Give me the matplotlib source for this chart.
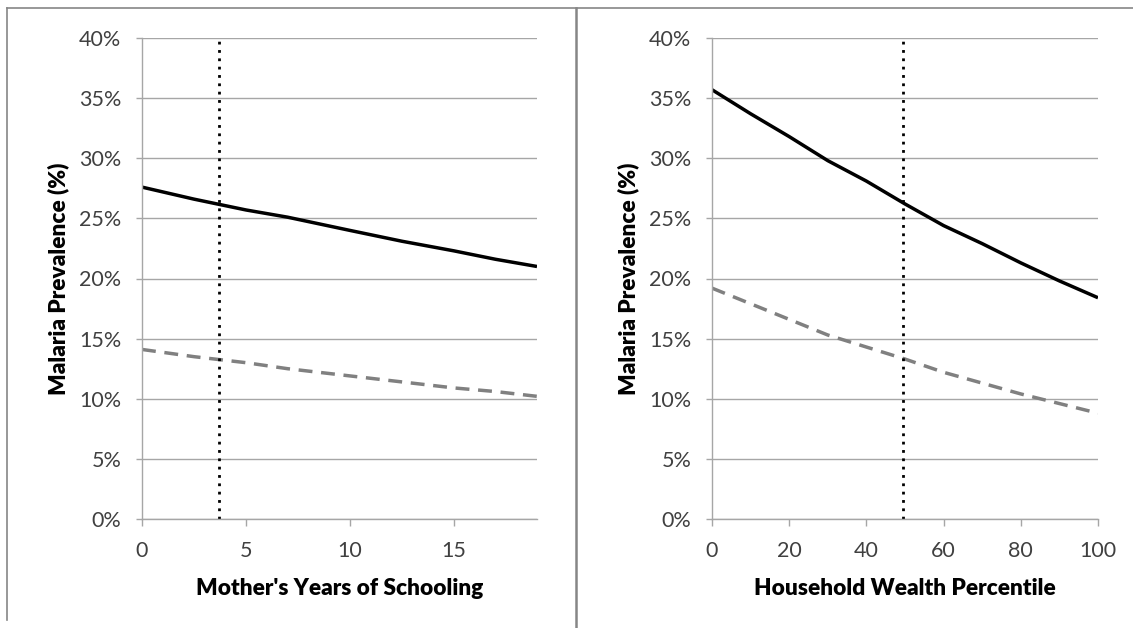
import matplotlib

matplotlib.use("Agg")
import matplotlib.pyplot as plt
from matplotlib.lines import Line2D
from matplotlib.ticker import FuncFormatter

plt.rcParams["font.family"] = ["Lato", "DejaVu Sans"]

# left panel: mother's years of schooling
school_x = [0, 2.5, 5, 7, 10, 12.5, 15, 17, 19]
school_solid = [27.6, 26.6, 25.7, 25.1, 24.0, 23.1, 22.3, 21.6, 21.0]
school_dashed = [14.1, 13.5, 13.0, 12.5, 11.9, 11.4, 10.9, 10.6, 10.2]
school_mark = 3.7

# right panel: household wealth percentile
wealth_x = [0, 10, 20, 30, 40, 50, 60, 70, 80, 90, 100]
wealth_solid = [35.7, 33.7, 31.8, 29.8, 28.1, 26.2, 24.4, 22.9, 21.3, 19.8, 18.4]
wealth_dashed = [19.2, 17.9, 16.6, 15.3, 14.3, 13.3, 12.2, 11.3, 10.4, 9.6, 8.8]
wealth_mark = 49.5

y_ticks = [0, 5, 10, 15, 20, 25, 30, 35, 40]
GRID = "#a6a6a6"
TEXT = "#404040"


def style_panel(ax, xlim, xticks, xlabel):
    ax.set_xlim(*xlim)
    ax.set_ylim(0, 40)
    ax.set_yticks(y_ticks)
    ax.set_xticks(xticks)
    ax.yaxis.set_major_formatter(FuncFormatter(lambda v, p: f"{v:.0f}%"))
    ax.grid(axis="y", color=GRID, linewidth=1)
    ax.set_axisbelow(True)
    for side in ["top", "right"]:
        ax.spines[side].set_visible(False)
    for side in ["left", "bottom"]:
        ax.spines[side].set_color(GRID)
        ax.spines[side].set_linewidth(1)
    ax.tick_params(axis="both", colors=GRID, labelcolor=TEXT, labelsize=15.5, width=1)
    ax.tick_params(axis="x", pad=11, length=5)
    ax.tick_params(axis="y", pad=11, length=4)
    ax.set_ylabel("Malaria Prevalence (%)", fontsize=16.3, fontweight="heavy", color="black", labelpad=7)
    ax.set_xlabel(xlabel, fontsize=16.3, fontweight="heavy", color="black", labelpad=12)


fig = plt.figure(figsize=(11.33, 6.28), dpi=100)
W, H = 1133, 628
ax1 = fig.add_axes([142 / W, 1 - 519 / H, (537 - 142) / W, (519 - 38) / H])
ax2 = fig.add_axes([712 / W, 1 - 519 / H, (1098 - 712) / W, (519 - 38) / H])

ax1.plot(school_x, school_solid, color="black", linewidth=2.5, solid_capstyle="butt")
ax1.plot(school_x, school_dashed, color="#808080", linewidth=2.5, linestyle=(0, (4, 2.5)))
ax1.axvline(school_mark, color="black", linewidth=2, linestyle=(0, (1, 2)))
style_panel(ax1, (0, 19), [0, 5, 10, 15], "Mother's Years of Schooling")

ax2.plot(wealth_x, wealth_solid, color="black", linewidth=2.5, solid_capstyle="butt")
ax2.plot(wealth_x, wealth_dashed, color="#808080", linewidth=2.5, linestyle=(0, (4, 2.5)))
ax2.axvline(wealth_mark, color="black", linewidth=2, linestyle=(0, (1, 2)))
style_panel(ax2, (0, 100), [0, 20, 40, 60, 80, 100], "Household Wealth Percentile")

# panel frames
border = "#868686"
fig.add_artist(Line2D([7 / W, 7 / W], [1 - 8 / H, 1 - 620 / H], color=border, linewidth=1.2))
fig.add_artist(Line2D([7 / W, 1], [1 - 8 / H, 1 - 8 / H], color=border, linewidth=1.2))
fig.add_artist(Line2D([576 / W, 576 / W], [1 - 8 / H, 0], color=border, linewidth=1.8))

fig.savefig("out.png", dpi=100)
